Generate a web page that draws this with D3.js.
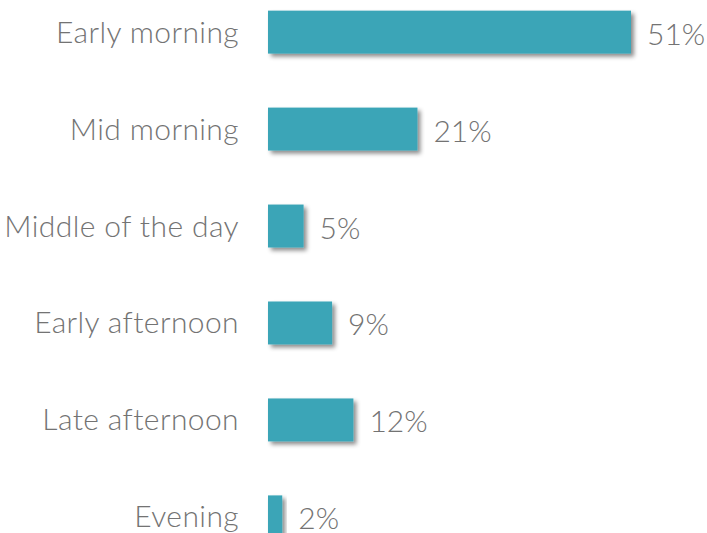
<!DOCTYPE html>
<html>
<head>
<meta charset="utf-8">
<script src="https://cdn.jsdelivr.net/npm/d3@7"></script>
<style>
  html, body { margin: 0; padding: 0; background: #fff; }
  svg text { font-family: Lato, "Open Sans", sans-serif; font-weight: 300; fill: #737373; }
</style>
</head>
<body>
<svg id="chart" width="707" height="533"></svg>
<script>
// Share of activity by time of day
const categories = ["Early morning", "Mid morning", "Middle of the day", "Early afternoon", "Late afternoon", "Evening"];
const values = [51, 21, 5, 9, 12, 2];

const svg = d3.select("#chart");
const left = 268;

const x = d3.scaleLinear().domain([0, 51]).range([left, 631]);
const y = d3.scaleBand().domain(categories).range([-16.5, 565.5]).paddingInner(0.557).paddingOuter(0.28);

const defs = svg.append("defs");
const f = defs.append("filter").attr("id", "shadow")
  .attr("x", "-20%").attr("y", "-30%").attr("width", "150%").attr("height", "180%");
f.append("feDropShadow").attr("dx", 3).attr("dy", 3).attr("stdDeviation", 2.2)
  .attr("flood-color", "#000").attr("flood-opacity", 0.45);

const rows = svg.selectAll("g.row").data(categories).join("g").attr("class", "row");

rows.append("rect")
  .attr("x", x(0))
  .attr("y", d => y(d))
  .attr("width", (d, i) => x(values[i]) - x(0))
  .attr("height", y.bandwidth())
  .attr("fill", "#3aa5b7")
  .attr("filter", "url(#shadow)");

rows.append("text")
  .attr("x", 239)
  .attr("y", d => y(d) + y.bandwidth() / 2)
  .attr("dy", "0.35em")
  .attr("text-anchor", "end")
  .attr("font-size", 30)
  .attr("letter-spacing", 0.4)
  .text(d => d);

rows.append("text")
  .attr("x", (d, i) => x(values[i]) + 16)
  .attr("y", d => y(d) + y.bandwidth() / 2 + 2)
  .attr("dy", "0.35em")
  .attr("font-size", 30)
  .text((d, i) => values[i] + "%");
</script>
</body>
</html>
